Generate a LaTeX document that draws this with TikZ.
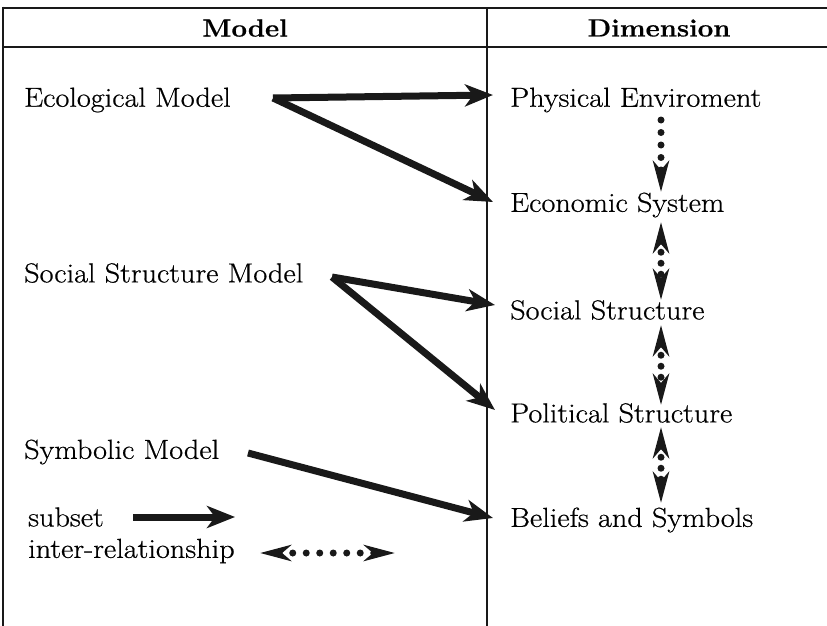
\documentclass[tikz,border=0pt]{standalone}
\usepackage{fontspec}
\setmainfont{Latin Modern Roman}[FakeStretch=1.1, FakeBold=0.6]
\usetikzlibrary{arrows.meta}
\begin{document}
\begin{tikzpicture}[x=1pt,y=-1pt,
  frameline/.style={line width=2.8pt, black!90},
  divline/.style={line width=2.3pt, black!90},
  hdr/.style={font=\fontsize{25}{29}\selectfont\bfseries, inner sep=0pt, text=black},
  txt/.style={font=\fontsize{27.5}{32}\selectfont, anchor=west, inner sep=0pt, text=black},
  subarrow/.style={line width=7pt, black!90, -{Stealth[length=28pt, width=22pt, inset=8pt]}},
  relone/.style={line width=7pt, black!90, line cap=round, dash pattern=on 0pt off 12.5pt,
     -{Stealth[length=31pt, width=16pt, inset=9pt]}},
  reltwo/.style={line width=7pt, black!90, line cap=round, dash pattern=on 0pt off 11pt,
     {Stealth[length=31pt, width=16pt, inset=9pt]}-{Stealth[length=31pt, width=16pt, inset=9pt]}}
]
\useasboundingbox (0,0) rectangle (827,626);
% frame
\draw[frameline] (3,8) -- (827,8);
\draw[frameline] (3,47) -- (827,47);
\draw[frameline] (3,6.6) -- (3,626);
\draw[divline] (487,8) -- (487,626);
% headers
\node[hdr] (hmodel) at (245,28) {Model};
\node[hdr] (hdim) at (659,28) {Dimension};
% left column
\node[txt] (eco) at (24,100) {Ecological Model};
\node[txt] (ssm) at (24,273) {Social Structure Model};
\node[txt] (sym) at (24,452) {Symbolic Model};
\node[txt] (subset) at (28,517) {subset};
\node[txt] (inter) at (28,551) {inter-relationship};
% right column
\node[txt] (phys) at (510,100) {Physical Enviroment};
\node[txt] (econ) at (510,205) {Economic System};
\node[txt] (soc) at (510,310) {Social Structure};
\node[txt] (pol) at (510,413) {Political Structure};
\node[txt] (bel) at (510,520) {Beliefs and Symbols};
% start points
\coordinate (ecoS) at (273,98);
\coordinate (ssmS) at (332,277);
\coordinate (symS) at (248,453);
\coordinate (subS) at (133,517);
\coordinate (subE) at (235,517);
% subset arrows
\draw[subarrow] (ecoS) -- ([shift={(-17,-5)}]phys.west);
\draw[subarrow] (ecoS) -- ([shift={(-17,-3)}]econ.west);
\draw[subarrow] (ssmS) -- ([shift={(-15,-5)}]soc.west);
\draw[subarrow] (ssmS) -- ([shift={(-15,-3)}]pol.west);
\draw[subarrow] (symS) -- ([shift={(-17,-2)}]bel.west);
\draw[subarrow] (subS) -- (subE);
% inter-relationship links
\coordinate (v1a) at (661,120);
\coordinate (v1b) at (661,192);
\coordinate (v2a) at (661,222);
\coordinate (v2b) at (661,300);
\coordinate (v3a) at (661,325);
\coordinate (v3b) at (661,405);
\coordinate (v4a) at (661,427);
\coordinate (v4b) at (661,503);
\coordinate (lgA) at (260,553);
\coordinate (lgB) at (395,553);
\draw[relone] (v1a) -- (v1b);
\draw[reltwo] (v2a) -- (v2b);
\draw[reltwo] (v3a) -- (v3b);
\draw[reltwo] (v4a) -- (v4b);
\draw[reltwo, dash pattern=on 0pt off 13.5pt] (lgA) -- (lgB);
\end{tikzpicture}
\end{document}
